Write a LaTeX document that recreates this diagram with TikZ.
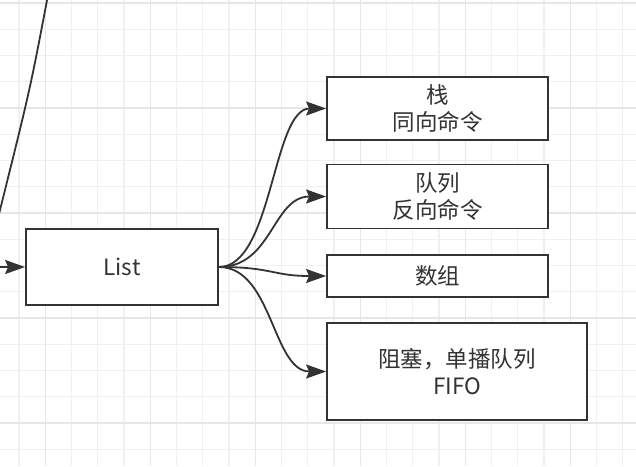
\documentclass[tikz,border=0pt]{standalone}
\usepackage{fontspec}
\setmainfont{Noto Sans CJK SC}
\usetikzlibrary{arrows.meta}
\definecolor{ink}{HTML}{333333}
\definecolor{gridminor}{HTML}{F0F0F0}
\definecolor{gridmajor}{HTML}{E6E6E6}
\tikzset{
  box/.style={draw=ink, line width=1.8pt, fill=white, inner sep=0pt, text=ink,
    font=\fontsize{22.5pt}{27pt}\selectfont, align=center},
  conn/.style={draw=ink, line width=1.8pt, -{Stealth[length=20pt,width=14pt,inset=3pt]}},
}
\begin{document}
\begin{tikzpicture}[x=1pt,y=-1pt]
\useasboundingbox (0,0) rectangle (636,466);
\fill[white] (0,0) rectangle (636,466);
\clip (0,0) rectangle (636,466);
% grid
\foreach \i in {0,...,23} {
  \draw[gridminor, line width=1.2pt] ({19+26.25*\i},0) -- ({19+26.25*\i},466);
}
\foreach \i in {0,...,17} {
  \draw[gridminor, line width=1.2pt] (0,{3+26.25*\i}) -- (636,{3+26.25*\i});
}
\foreach \i in {0,...,5} {
  \draw[gridmajor, line width=1.5pt] ({45.25+105*\i},0) -- ({45.25+105*\i},466);
}
\foreach \i in {0,...,4} {
  \draw[gridmajor, line width=1.5pt] (0,{3+105*\i}) -- (636,{3+105*\i});
}
% nodes
\node[box, minimum width=192pt, minimum height=76pt] (list) at (122,267) {List};
\node[box, minimum width=221pt, minimum height=63pt] (stack) at (437.5,108.5) {栈\\同向命令};
\node[box, minimum width=221pt, minimum height=64pt] (queue) at (437.5,196.5) {队列\\反向命令};
\node[box, minimum width=221pt, minimum height=42pt] (array) at (437.5,276) {数组};
\node[box, minimum width=260pt, minimum height=97pt] (block) at (457,371.5) {阻塞，单播队列\\FIFO};
% off-picture ends
\coordinate (topin) at (48,-5);
\coordinate (topout) at (-3,222);
\coordinate (leftin) at (-6,267);
\draw[draw=ink, line width=1.8pt] (topin) .. controls (30,90) .. (topout);
\draw[conn] (leftin) -- (list.west);
% curved connectors
\draw[conn] (list.east) .. controls (272.5,267) and (272.5,108.5) .. (stack.west);
\draw[conn] (list.east) .. controls (272.5,267) and (272.5,196.5) .. (queue.west);
\draw[conn] (list.east) .. controls (272.5,267) and (272.5,276) .. (array.west);
\draw[conn] (list.east) .. controls (272.5,267) and (272.5,371.5) .. (block.west);
\end{tikzpicture}
\end{document}
